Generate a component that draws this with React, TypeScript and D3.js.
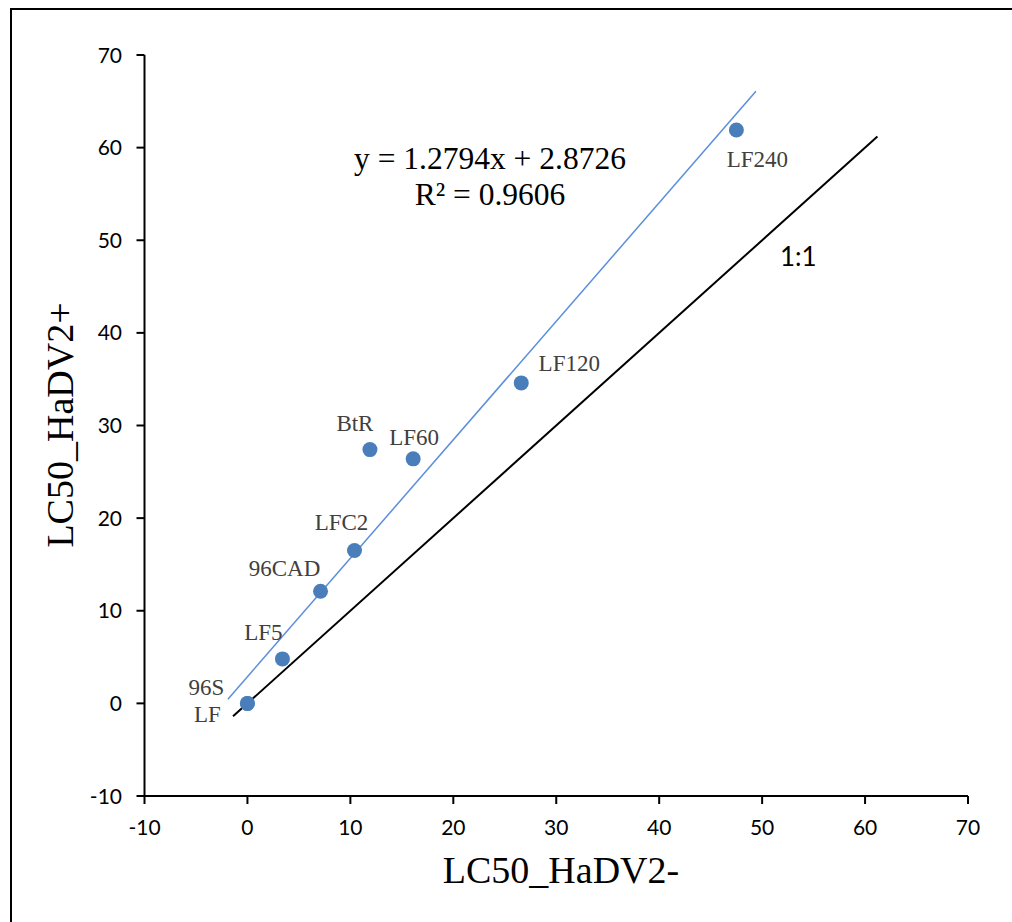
import React from "react";
import * as d3 from "d3";

const labels = ["96S", "LF", "LF5", "96CAD", "LFC2", "BtR", "LF60", "LF120", "LF240"];
const xValues = [0, 0, 3.4, 7.1, 10.4, 11.9, 16.1, 26.6, 47.5];
const yValues = [0, 0, 4.8, 12.1, 16.5, 27.4, 26.4, 34.6, 61.9];
const ticks = [-10, 0, 10, 20, 30, 40, 50, 60, 70];
const slope = 1.2794;
const intercept = 2.8726;
const trendRange = [-1.9, 49.4];
const identityRange = [-1.4, 61.2];
const equationLines = ["y = 1.2794x + 2.8726", "R² = 0.9606"];

// label placement offsets (px) relative to each point
const labelOffsets: [number, number][] = [
  [-41, -8], [-40, 19], [-19, -19], [-36, -15], [-13, -21], [-15, -19], [1, -14], [48, -12], [21, 37],
];

const W = 1012, H = 922;

export default function App() {
  const x = d3.scaleLinear().domain([-10, 70]).range([144.5, 968]);
  const y = d3.scaleLinear().domain([-10, 70]).range([796, 55]);
  const line = d3.line<[number, number]>().x(d => x(d[0])).y(d => y(d[1]));
  const trend: [number, number][] = trendRange.map(v => [v, slope * v + intercept]);
  const ident: [number, number][] = identityRange.map(v => [v, v]);
  const sans = "Lato, 'Open Sans', sans-serif";
  const serif = "'Liberation Serif', 'DejaVu Serif', serif";
  const x0 = x(-10), y0 = y(-10);
  return (
    <div style={{ position: "absolute", left: 0, top: 0 }}>
      <svg width={W} height={H} style={{ display: "block", background: "#fff" }}>
        <rect x={0} y={0} width={W} height={H} fill="#fff" />
        <path d={`M11,${H + 5}V9H${W + 5}`} fill="none" stroke="#000" strokeWidth={2} />
        {/* axes */}
        <line x1={x0} x2={x0} y1={y(70)} y2={y0} stroke="#000" strokeWidth={2} />
        <line x1={x0} x2={x(70)} y1={y0} y2={y0} stroke="#000" strokeWidth={2} />
        {ticks.map(t => (
          <g key={"y" + t}>
            <line x1={x0 - 8} x2={x0} y1={y(t)} y2={y(t)} stroke="#000" strokeWidth={2} />
            <text x={122} y={y(t)} dy="0.36em" textAnchor="end" fontFamily={sans} fontSize={21} fill="#000">{t}</text>
          </g>
        ))}
        {ticks.map(t => (
          <g key={"x" + t}>
            <line x1={x(t)} x2={x(t)} y1={y0} y2={y0 + 8} stroke="#000" strokeWidth={2} />
            <text x={x(t)} y={835} textAnchor="middle" fontFamily={sans} fontSize={21} fill="#000">{t}</text>
          </g>
        ))}
        {/* lines */}
        <path d={line(ident) || ""} stroke="#000" strokeWidth={2} fill="none" />
        <path d={line(trend) || ""} stroke="#5a8fdc" strokeWidth={1.5} fill="none" />
        {/* points */}
        {xValues.map((v, i) => (
          <circle key={"p" + i} cx={x(v)} cy={y(yValues[i])} r={7.5} fill="#4a7ebb" />
        ))}
        {labels.map((l, i) => (
          <text key={"l" + i} x={x(xValues[i]) + labelOffsets[i][0]} y={y(yValues[i]) + labelOffsets[i][1]}
            textAnchor="middle" fontFamily={serif} fontSize={23} fill="#404040">{l}</text>
        ))}
        {/* equation */}
        {equationLines.map((s, i) => (
          <text key={"e" + i} x={490} y={169 + i * 36} textAnchor="middle" fontFamily={serif} fontSize={31.5} fill="#000">{s}</text>
        ))}
        <text x={780} y={266} fontFamily={sans} fontSize={26} fill="#000">1:1</text>
        {/* axis titles */}
        <text x={561} y={883} textAnchor="middle" fontFamily={serif} fontSize={38} fill="#000">LC50_HaDV2-</text>
        <text transform={`translate(73,425) rotate(-90)`} textAnchor="middle" fontFamily={serif} fontSize={38} fill="#000">LC50_HaDV2+</text>
      </svg>
    </div>
  );
}
